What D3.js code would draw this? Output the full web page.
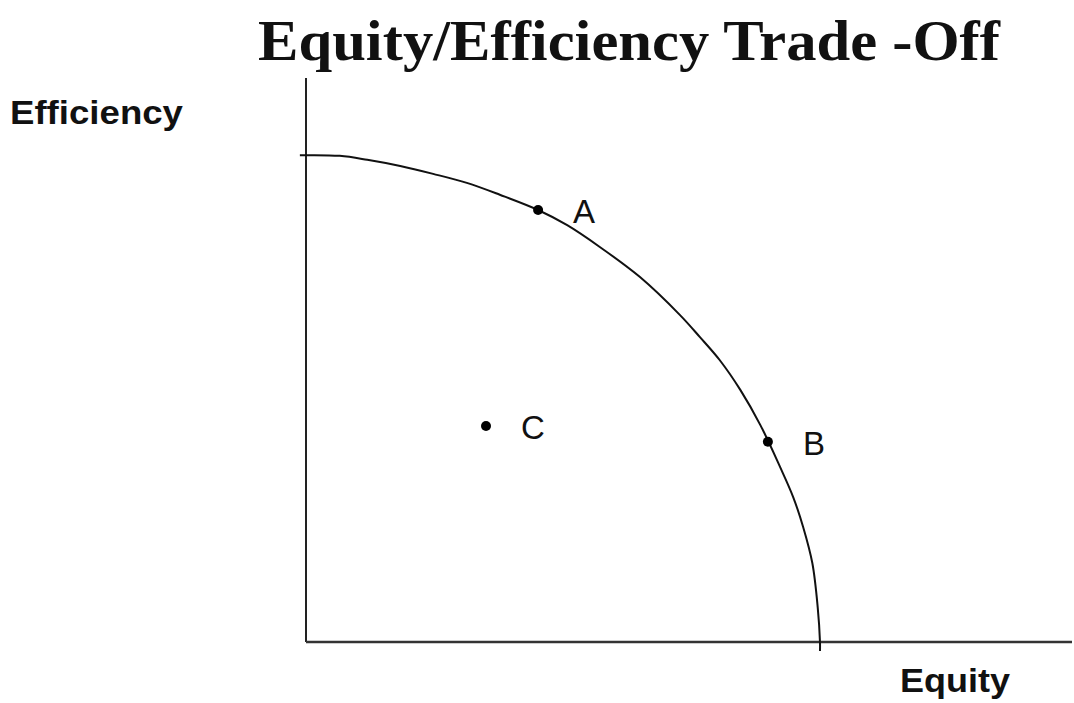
<!DOCTYPE html>
<html>
<head>
<meta charset="utf-8">
<script src="https://cdn.jsdelivr.net/npm/d3@7"></script>
<style>
  html, body { margin: 0; padding: 0; background: #fff; }
  svg { display: block; }
</style>
</head>
<body>
<div id="chart"></div>
<script>
// frontier curve (equity, efficiency on a 0-100 scale)
const curveEquity =     [-0.8, 4.4, 8.0, 12.3, 16.6, 21.0, 25.3, 30.3, 34.1, 38.4, 43.6, 48.8, 51.4, 54.0, 56.7, 59.3, 61.9, 63.6, 64.9, 66.1, 66.8, 67.1, 67.1];
const curveEfficiency = [86.3, 86.2, 85.5, 84.4, 83.0, 81.4, 79.3, 76.6, 73.9, 70.0, 64.7, 58.0, 54.1, 50.0, 44.7, 38.5, 31.0, 25.7, 20.4, 14.0, 6.2, 0, -1.6];

// labelled points
const pointLabels = ['A', 'B', 'C'];
const pointEquity = [30.3, 60.3, 23.5];
const pointEfficiency = [76.6, 35.5, 38.3];

const titleText = 'Equity/Efficiency Trade -Off';
const xLabel = 'Equity';
const yLabel = 'Efficiency';

const width = 1074, height = 703;
const svg = d3.select('#chart').append('svg')
  .attr('width', width)
  .attr('height', height);

const x = d3.scaleLinear().domain([0, 100]).range([306, 1072]);
const y = d3.scaleLinear().domain([0, 100]).range([642, 78]);

// title
svg.append('text')
  .attr('x', 258)
  .attr('y', 60)
  .attr('textLength', 742)
  .attr('lengthAdjust', 'spacingAndGlyphs')
  .style('font-family', '"Liberation Serif", "DejaVu Serif", serif')
  .style('font-weight', 'bold')
  .style('font-size', '58px')
  .attr('fill', '#111')
  .text(titleText);

// axes (plain lines, no ticks)
svg.append('line')
  .attr('x1', x(0)).attr('x2', x(0))
  .attr('y1', y(100)).attr('y2', y(0))
  .attr('stroke', '#222').attr('stroke-width', 2);
svg.append('line')
  .attr('x1', x(0)).attr('x2', x(100))
  .attr('y1', y(0)).attr('y2', y(0))
  .attr('stroke', '#333').attr('stroke-width', 2.5);

// axis labels
svg.append('text')
  .attr('x', 10).attr('y', 124)
  .attr('textLength', 173)
  .attr('lengthAdjust', 'spacingAndGlyphs')
  .style('font-family', '"Liberation Sans", Arial, sans-serif')
  .style('font-weight', 'bold')
  .style('font-size', '33px')
  .attr('fill', '#111')
  .text(yLabel);

svg.append('text')
  .attr('x', 900).attr('y', 692)
  .attr('textLength', 110)
  .attr('lengthAdjust', 'spacingAndGlyphs')
  .style('font-family', '"Liberation Sans", Arial, sans-serif')
  .style('font-weight', 'bold')
  .style('font-size', '33px')
  .attr('fill', '#111')
  .text(xLabel);

// frontier
const curve = curveEquity.map((e, i) => [e, curveEfficiency[i]]);
svg.append('path')
  .datum(curve)
  .attr('fill', 'none')
  .attr('stroke', '#111')
  .attr('stroke-width', 2)
  .attr('d', d3.line()
    .x(d => x(d[0]))
    .y(d => y(d[1]))
    .curve(d3.curveCatmullRom.alpha(0.5)));

// points + labels
const pts = pointLabels.map((l, i) => ({ label: l, e: pointEquity[i], f: pointEfficiency[i] }));
const g = svg.append('g');
g.selectAll('circle')
  .data(pts)
  .join('circle')
  .attr('cx', d => x(d.e))
  .attr('cy', d => y(d.f))
  .attr('r', 5)
  .attr('fill', '#000');

g.selectAll('text')
  .data(pts)
  .join('text')
  .attr('x', d => x(d.e) + 35)
  .attr('y', d => y(d.f) + 13)
  .style('font-family', '"Liberation Sans", Arial, sans-serif')
  .style('font-size', '33px')
  .attr('fill', '#111')
  .text(d => d.label);
</script>
</body>
</html>
